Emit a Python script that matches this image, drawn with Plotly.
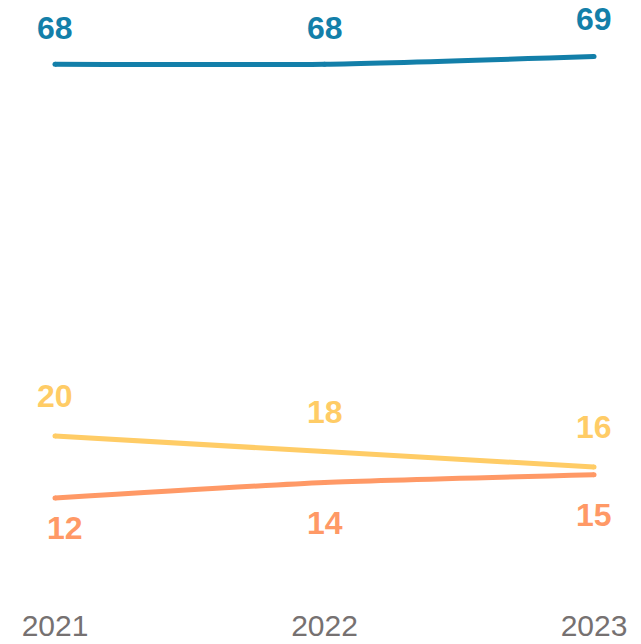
import plotly.graph_objects as go

years = [2021, 2022, 2023]
tick_labels = ["2021", "2022", "2023"]
series_names = ["Blue", "Yellow", "Orange"]
blue_vals = [68, 68, 69]
yellow_vals = [20, 18, 16]
orange_vals = [12, 14, 15]

colors = ["#137FA9", "#FFCC66", "#FF9966"]
# label pixel offsets (style only)
label_dy = [[36, 36, 37], [40, 40, 40], [-30, -40, -40]]
label_dx = [[0, 0, 0], [0, 0, 0], [10, 0, 0]]

fig = go.Figure()
all_vals = [blue_vals, yellow_vals, orange_vals]
for name, vals, col in zip(series_names, all_vals, colors):
    fig.add_trace(go.Scatter(
        x=years, y=vals, name=name, mode="lines+markers",
        line=dict(color=col, width=5, shape="spline", smoothing=0.6),
        marker=dict(color=col, size=5),
        cliponaxis=False, hoverinfo="skip", showlegend=False,
    ))

for vals, col, dys, dxs in zip(all_vals, colors, label_dy, label_dx):
    for x, v, dy, dx in zip(years, vals, dys, dxs):
        fig.add_annotation(
            x=x, y=v, text=str(v), showarrow=False,
            xanchor="center", yanchor="middle", yshift=dy, xshift=dx,
            font=dict(family="Liberation Sans, Arial, sans-serif", size=32, color=col, weight="bold"),
        )

fig.update_layout(
    width=633, height=636,
    margin=dict(l=47, r=47, t=2, b=53, autoexpand=False),
    plot_bgcolor="white", paper_bgcolor="white",
    showlegend=False,
)
fig.update_xaxes(
    range=[2021, 2023], tickvals=years, ticktext=tick_labels,
    showgrid=False, zeroline=False, showline=False, ticks="",
    ticklabelstandoff=14, automargin=False,
    tickfont=dict(family="Liberation Sans, Arial, sans-serif", size=30, color="#767171"),
)
fig.update_yaxes(range=[0, 75], visible=False, showgrid=False, zeroline=False, automargin=False)

fig.write_html("out.html")
